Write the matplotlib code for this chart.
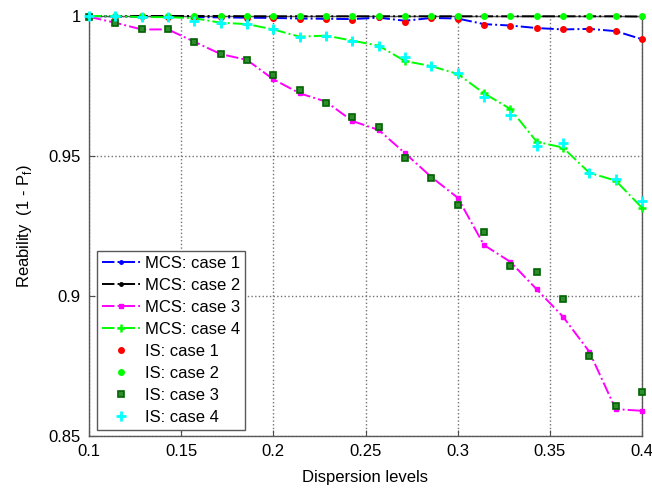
import numpy as np
import matplotlib
matplotlib.use("Agg")
import matplotlib.pyplot as plt
from matplotlib.ticker import FuncFormatter

plt.rcParams['font.family'] = ['Liberation Sans', 'DejaVu Sans']
plt.rcParams['mathtext.fontset'] = 'custom'
plt.rcParams['mathtext.rm'] = 'Liberation Sans'

# ===== Data =====
dispersion = np.linspace(0.1, 0.4, 22)

mcs_case1 = [1.0, 0.9998, 0.9998, 0.9997, 0.9996, 0.9995, 0.9994, 0.9993,
             0.9991, 0.9990, 0.9989, 0.9994, 0.9983, 0.9993, 0.9991, 0.9971,
             0.9966, 0.9957, 0.9952, 0.9954, 0.9946, 0.9917]
mcs_case2 = [1.0, 1.0, 1.0, 1.0, 1.0, 1.0, 0.9999, 0.9999, 0.9999, 0.9999,
             0.9999, 0.9999, 0.9999, 0.9999, 0.9999, 0.9999, 0.9999, 0.9999,
             0.9999, 0.9999, 0.9999, 0.9998]
mcs_case3 = [0.9997, 0.9976, 0.9952, 0.9952, 0.9908, 0.9864, 0.9843, 0.9774,
             0.9724, 0.9694, 0.9625, 0.9593, 0.9510, 0.9425, 0.9351, 0.9182,
             0.9122, 0.9024, 0.8926, 0.8801, 0.8596, 0.8590]
mcs_case4 = [1.0, 1.0, 0.9996, 0.9996, 0.9992, 0.9976, 0.9971, 0.9952,
             0.9926, 0.9930, 0.9912, 0.9894, 0.9839, 0.9821, 0.9793, 0.9724,
             0.9668, 0.9551, 0.9530, 0.9440, 0.9412, 0.9315]

is_case1 = [1.0, 0.9998, 0.9999, 0.9997, 0.9996, 0.9996, 0.9994, 0.9992,
            0.9990, 0.9988, 0.9986, 0.9995, 0.9977, 0.9994, 0.9988, 0.9968,
            0.9965, 0.9956, 0.9952, 0.9954, 0.9946, 0.9917]
is_case2 = [1.0] * 22
is_case3 = [0.9997, 0.9976, 0.9952, 0.9952, 0.9908, 0.9864, 0.9843, 0.9789,
            0.9736, 0.9690, 0.9638, 0.9602, 0.9494, 0.9423, 0.9325, 0.9227,
            0.9108, 0.9087, 0.8990, 0.8786, 0.8607, 0.8656]
is_case4 = [1.0, 1.0, 0.9996, 0.9998, 0.9983, 0.9974, 0.9971, 0.9952,
            0.9926, 0.9930, 0.9912, 0.9894, 0.9852, 0.9821, 0.9798, 0.9712,
            0.9646, 0.9537, 0.9548, 0.9440, 0.9417, 0.9339]

fig = plt.figure(figsize=(6.52, 4.94), dpi=100)
ax = fig.add_axes([89 / 652, 1 - 436 / 494, (642 - 89) / 652, (436 - 16) / 494])

lw = 1.4
ax.plot(dispersion, mcs_case1, '-.', color='blue', lw=lw, marker='.', ms=5,
        label='MCS: case 1', clip_on=False, zorder=3)
ax.plot(dispersion, mcs_case2, '-.', color='black', lw=lw, marker='.', ms=5,
        label='MCS: case 2', clip_on=False, zorder=3)
ax.plot(dispersion, mcs_case3, '-.', color='magenta', lw=lw, marker='s', ms=3.5,
        label='MCS: case 3', clip_on=False, zorder=3)
ax.plot(dispersion, mcs_case4, '-.', color='lime', lw=lw, marker='+', ms=6,
        mew=1.8, label='MCS: case 4', clip_on=False, zorder=3)

ax.plot(dispersion, is_case1, ls='none', color='red', marker='.', ms=8,
        label='IS: case 1', clip_on=False, zorder=4)
ax.plot(dispersion, is_case2, ls='none', color='lime', marker='.', ms=8,
        label='IS: case 2', clip_on=False, zorder=4)
ax.plot(dispersion, is_case3, ls='none', marker='s', ms=4.5, mfc='#2e8b2e',
        mec='#006400', mew=1.2, label='IS: case 3', clip_on=False, zorder=4)
ax.plot(dispersion, is_case4, ls='none', color='cyan', marker='+', ms=7,
        mew=2, label='IS: case 4', clip_on=False, zorder=4)

ax.set_xlim(0.1, 0.4)
ax.set_ylim(0.85, 1.0)
ax.set_xticks([0.1, 0.15, 0.2, 0.25, 0.3, 0.35, 0.4])
ax.set_yticks([0.85, 0.9, 0.95, 1.0])
fmt = FuncFormatter(lambda v, p: f'{v:g}')
ax.xaxis.set_major_formatter(fmt)
ax.yaxis.set_major_formatter(fmt)
ax.tick_params(direction='in', length=4, labelsize=12, color='0.3', pad=6)
ax.grid(True, linestyle=':', color='0.45', lw=1.0)
for s in ax.spines.values():
    s.set_color('0.35')
    s.set_linewidth(1.0)

ax.set_xlabel('Dispersion levels', fontsize=12, labelpad=8)
ax.set_ylabel(r'Reability  (1 - P$_\mathregular{f}$)', fontsize=12, labelpad=10)

leg = ax.legend(loc='lower left', bbox_to_anchor=(0.008, 0.006), fontsize=12,
                frameon=True, fancybox=False, edgecolor='0.35', framealpha=1,
                handlelength=2.3, handletextpad=0.3, labelspacing=0.42,
                borderpad=0.3, borderaxespad=0.2)
leg.get_frame().set_linewidth(1.0)

fig.savefig('out.png', dpi=100)
